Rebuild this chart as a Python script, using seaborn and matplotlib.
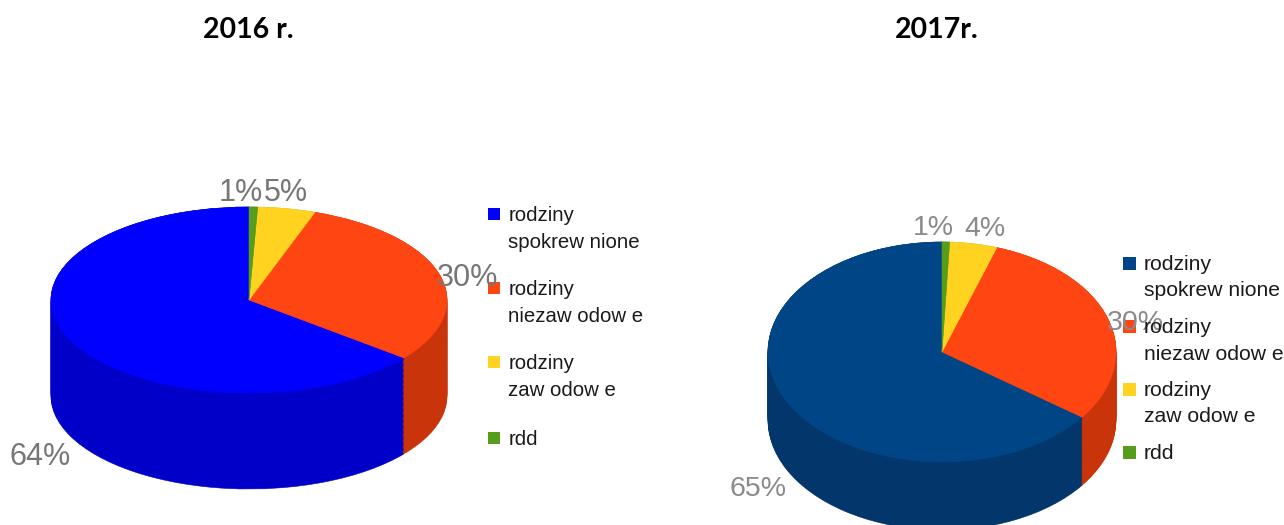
import numpy as np
import seaborn as sns
import matplotlib.pyplot as plt
from matplotlib.patches import Rectangle

W, H = 1284, 525

labels = ["rodziny\nspokrew nione", "rodziny\nniezaw odow e", "rodziny\nzaw odow e", "rdd"]
values_2016 = [64.3, 30.3, 4.7, 0.7]
values_2017 = [64.9, 30.0, 4.4, 0.7]
pct_2016 = ["64%", "30%", "5%", "1%"]
pct_2017 = ["65%", "30%", "4%", "1%"]

top_2016 = ["#0000ff", "#ff4512", "#ffd320", "#579d1c"]
side_2016 = ["#0000c8", "#c9340b", "#c9a50f", "#3f7512"]
top_2017 = ["#004586", "#ff4512", "#ffd320", "#579d1c"]
side_2017 = ["#03366a", "#c9340b", "#c9a50f", "#3f7512"]

sns.set_theme(style="white")
plt.rcParams["font.family"] = ["Liberation Sans", "DejaVu Sans"]

fig = plt.figure(figsize=(W / 100, H / 100), dpi=100)


def pie3d(values, top, side, cx, cy, rx, ry, depth):
    # one axes per pie, y squashed so the circle turns into an ellipse
    pad = 8
    ax = fig.add_axes([(cx - rx - pad) / W, (H - cy - ry - depth - pad) / H,
                       (2 * rx + 2 * pad) / W, (2 * ry + depth + 2 * pad) / H])
    d = depth / ry
    for off in np.linspace(d, 0, 80):
        layer, _ = ax.pie(values, colors=side, startangle=90, center=(0, -off))
        for w in layer:
            w.set_edgecolor(w.get_facecolor())
            w.set_linewidth(0.4)
    wedges, _ = ax.pie(values, colors=top, startangle=90, center=(0, 0))
    for w in wedges:
        w.set_edgecolor(w.get_facecolor())
        w.set_linewidth(0.4)
    ax.set_aspect("auto")
    ax.set_xlim(-1 - pad / rx, 1 + pad / rx)
    ax.set_ylim(-1 - d - pad / ry, 1 + pad / ry)


def add_legend(colors, x, ys, size, fontsize):
    # legend by hand: the swatch lines up with the first line of each label
    for lab, col, y in zip(labels, colors, ys):
        fig.add_artist(Rectangle((x / W, 1 - (y + size / 2) / H), size / W, size / H,
                                 transform=fig.transFigure, facecolor=col, edgecolor="none"))
        fig.text((x + 20.5) / W, 1 - (y - 8) / H, lab, fontsize=fontsize, color="#1a1a1a",
                 ha="left", va="top", linespacing=1.5)


pie3d(values_2016, top_2016, side_2016, 249, 300, 198, 93, 96)
pie3d(values_2017, top_2017, side_2017, 942, 352, 174, 110, 68)

fig.text(248 / W, 1 - 30 / H, "2016 r.", family="Lato", weight="bold", fontsize=20.5,
         ha="center", va="center", color="black")
fig.text(937 / W, 1 - 30 / H, "2017r.", family="Lato", weight="bold", fontsize=20.5,
         ha="center", va="center", color="black")

# percent labels sit where the original chart put them
for txt, x, y in zip(pct_2016, [40, 468, 286, 241], [457, 278, 193, 193]):
    fig.text(x / W, 1 - y / H, txt, fontsize=22, color="#767676", ha="center", va="center")
for txt, x, y in zip(pct_2017, [758, 1135, 985, 933], [489, 323, 229, 228]):
    fig.text(x / W, 1 - y / H, txt, fontsize=20.5, color="#8a8a8a", ha="center", va="center")

add_legend(top_2016, 488, [214, 288, 362, 438], 12, 14.7)
add_legend(top_2017, 1123, [263, 326, 389, 452], 13, 15.2)

fig.savefig("out.png", dpi=100)
